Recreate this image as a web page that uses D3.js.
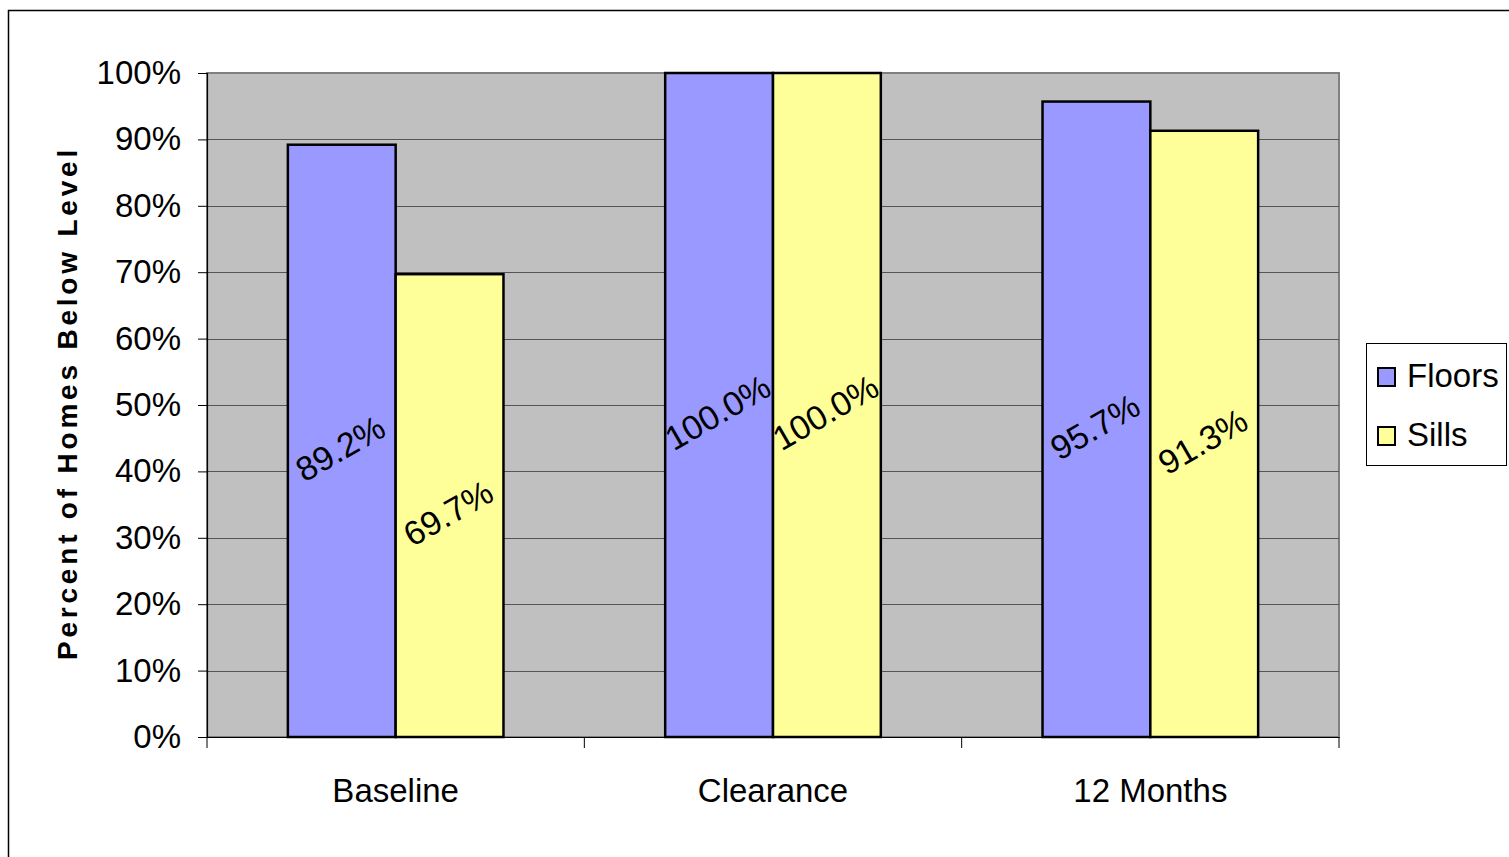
<!DOCTYPE html>
<html><head><meta charset="utf-8">
<script src="https://cdn.jsdelivr.net/npm/d3@7"></script>
<style>html,body{margin:0;padding:0;background:#fff;overflow:hidden}</style>
</head><body>
<svg id="c" width="1509" height="857"></svg>
<script>
const categories = ["Baseline", "Clearance", "12 Months"];
const seriesNames = ["Floors", "Sills"];
const floorsValues = [0.892, 1.0, 0.957];
const sillsValues = [0.697, 1.0, 0.913];
const seriesColors = ["#9999FF", "#FFFF99"];
const yTicks = [0, 0.1, 0.2, 0.3, 0.4, 0.5, 0.6, 0.7, 0.8, 0.9, 1.0];
const yTitle = "Percent of Homes Below Level";

const svg = d3.select("#c");
const font = "'Liberation Sans', Arial, sans-serif";
const L = 207, R = 1339, T = 73, B = 737;

// outer border
svg.append("rect").attr("x", 8.5).attr("y", 10.5).attr("width", 1600).attr("height", 1000)
  .attr("fill", "#fff").attr("stroke", "#000").attr("stroke-width", 1.5);

const x = d3.scaleBand().domain(categories).range([L, R]).paddingInner(0).paddingOuter(0);
const bw = x.bandwidth();
const barW = bw / 3.5;
const xs = d3.scaleBand().domain(seriesNames).range([barW * 0.75, bw - barW * 0.75]);
const y = d3.scaleLinear().domain([0, 1]).range([B, T]);

// plot area
svg.append("rect").attr("x", L).attr("y", T).attr("width", R - L).attr("height", B - T)
  .attr("fill", "#C0C0C0").attr("stroke", "#808080").attr("stroke-width", 2);

// gridlines
svg.append("g").selectAll("line").data(yTicks.filter(d => d > 0 && d < 1)).join("line")
  .attr("x1", L).attr("x2", R).attr("y1", d => Math.round(y(d)) + 0.5).attr("y2", d => Math.round(y(d)) + 0.5)
  .attr("stroke", "#555").attr("stroke-width", 1);

// y axis
const yAxis = d3.axisLeft(y).tickValues(yTicks).tickFormat(d3.format(".0%")).tickSize(9).tickPadding(17);
const gy = svg.append("g").attr("transform", `translate(${L},0)`).call(yAxis);
gy.select(".domain").attr("stroke", "#000").attr("stroke-width", 1.2);
gy.selectAll(".tick line").attr("stroke", "#000");
gy.selectAll(".tick text").attr("font-family", font).attr("font-size", 33).attr("fill", "#000")
  .attr("dy", "0.32em");

// x axis
const xAxis = d3.axisBottom(x).tickSize(0).tickPadding(42);
const gx = svg.append("g").attr("transform", `translate(0,${B})`).call(xAxis);
gx.select(".domain").attr("stroke", "#000").attr("stroke-width", 1.2);
gx.selectAll(".tick text").attr("font-family", font).attr("font-size", 33).attr("fill", "#000");
// category separators
const seps = categories.map(c => x(c)).concat([R]);
svg.append("g").selectAll("line").data(seps).join("line")
  .attr("x1", d => d).attr("x2", d => d).attr("y1", B).attr("y2", B + 11)
  .attr("stroke", "#000").attr("stroke-width", 1);

// bars
const data = seriesNames.map((s, i) => ({ name: s, color: seriesColors[i], values: i === 0 ? floorsValues : sillsValues }));
const gBars = svg.append("g");
data.forEach(s => {
  gBars.selectAll(null).data(s.values.map((v, j) => ({ v, c: categories[j] }))).join("rect")
    .attr("x", d => x(d.c) + xs(s.name)).attr("width", xs.bandwidth())
    .attr("y", d => y(d.v)).attr("height", d => y(0) - y(d.v))
    .attr("fill", s.color).attr("stroke", "#000").attr("stroke-width", 2.5);
});
// labels
data.forEach(s => {
  svg.append("g").selectAll("text").data(s.values.map((v, j) => ({ v, c: categories[j] }))).join("text")
    .attr("transform", d => `translate(${x(d.c) + xs(s.name) + xs.bandwidth() / 2},${y(d.v / 2) + 10}) rotate(-30)`)
    .attr("text-anchor", "middle").attr("dominant-baseline", "middle")
    .attr("font-family", font).attr("font-size", 34).attr("fill", "#000")
    .text(d => d3.format(".1%")(d.v));
});

// y title
svg.append("text").attr("transform", `translate(77,${(148 + 658) / 2}) rotate(-90)`)
  .attr("text-anchor", "middle").attr("font-family", font).attr("font-weight", "bold")
  .attr("font-size", 28).attr("letter-spacing", 3.8).attr("fill", "#000").text(yTitle);

// legend
const lg = svg.append("g");
lg.append("rect").attr("x", 1366.5).attr("y", 343.5).attr("width", 140).attr("height", 122)
  .attr("fill", "#fff").attr("stroke", "#000").attr("stroke-width", 1);
data.forEach((s, i) => {
  const yy = 377 + i * 59;
  lg.append("rect").attr("x", 1378).attr("y", yy - 9).attr("width", 17).attr("height", 18)
    .attr("fill", s.color).attr("stroke", "#000").attr("stroke-width", 2);
  lg.append("text").attr("x", 1407).attr("y", yy + 10).attr("font-family", font).attr("font-size", 33)
    .attr("fill", "#000").text(s.name);
});
</script>
</body></html>
